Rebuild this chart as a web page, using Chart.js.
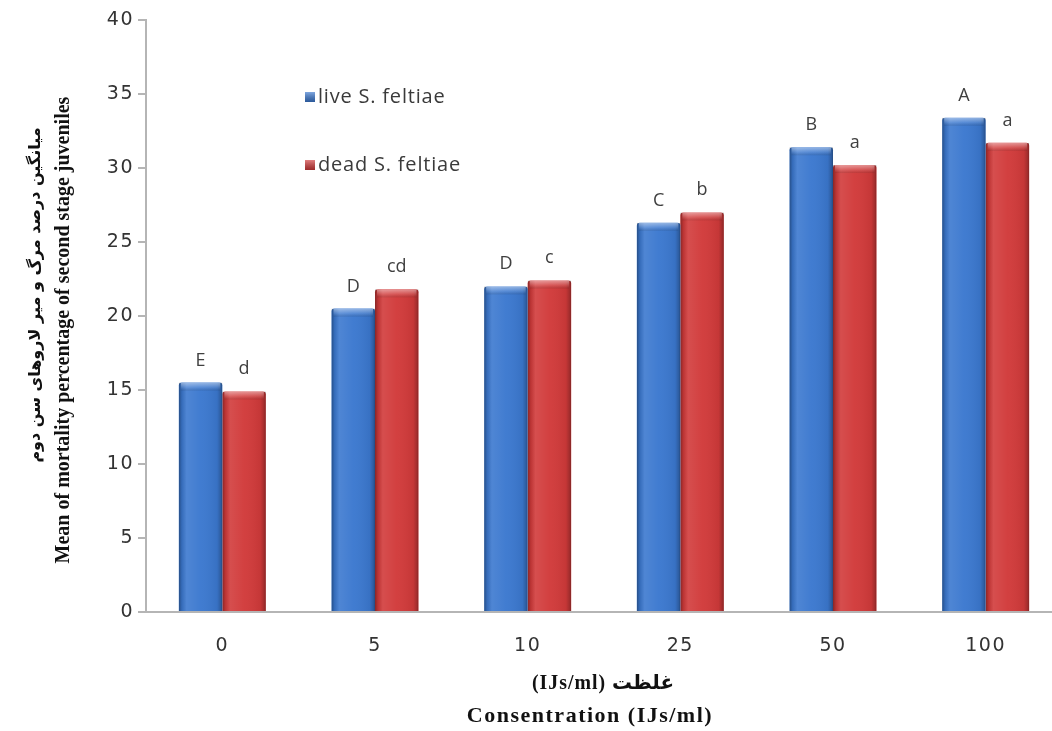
<!DOCTYPE html>
<html>
<head>
<meta charset="utf-8">
<script src="https://cdn.jsdelivr.net/npm/chart.js@4/dist/chart.umd.min.js"></script>
<style>
  html, body { margin: 0; padding: 0; background: #ffffff; overflow: hidden; }
  #wrap { position: relative; width: 1062px; height: 731px; }
</style>
</head>
<body>
<div id="wrap"><canvas id="chart" width="1062" height="731"></canvas></div>
<script>
// Concentration levels (IJs/ml)
const categories = ['0', '5', '10', '25', '50', '100'];

// Mean mortality (%) of second stage juveniles
const liveValues = [15.5, 20.5, 22.0, 26.3, 31.4, 33.4];
const deadValues = [14.9, 21.8, 22.4, 27.0, 30.2, 31.7];

// Mean-separation letters printed above each bar
const liveLetters = ['E', 'D', 'D', 'C', 'B', 'A'];
const deadLetters = ['d', 'cd', 'c', 'b', 'a', 'a'];

const seriesNames = ['live S. feltiae', 'dead S. feltiae'];

const yTitleLines = ['میانگین درصد مرگ و میر لاروهای سن دوم',
                     'Mean of mortality percentage of second stage juveniles'];
const xTitleLines = ['(IJs/ml) غلظت', 'Consentration (IJs/ml)'];

const BLUE = '#3b78cf';
const RED = '#d13a3a';

// Slightly spaced tick digits
const spacingPlugin = {
  id: 'tickSpacing',
  beforeLayout(chart) { chart.ctx.letterSpacing = '1.5px'; },
  beforeDraw(chart) { chart.ctx.letterSpacing = '1.5px'; },
  beforeDatasetsDraw(chart) { chart.ctx.letterSpacing = '0px'; }
};

// 3D-looking shading laid over each bar
const bevelPlugin = {
  id: 'bevel',
  afterDatasetsDraw(chart) {
    const ctx = chart.ctx;
    chart.data.datasets.forEach((ds, di) => {
      const meta = chart.getDatasetMeta(di);
      meta.data.forEach(bar => {
        const x0 = bar.x - bar.width / 2, x1 = bar.x + bar.width / 2;
        const top = bar.y, bottom = bar.base;
        ctx.save();
        ctx.beginPath();
        ctx.rect(x0, top, x1 - x0, bottom - top);
        ctx.clip();
        const g = ctx.createLinearGradient(x0, 0, x1, 0);
        g.addColorStop(0, 'rgba(0,0,0,0.35)');
        g.addColorStop(0.07, 'rgba(0,0,0,0.10)');
        g.addColorStop(0.18, 'rgba(255,255,255,0.10)');
        g.addColorStop(0.5, 'rgba(255,255,255,0.03)');
        g.addColorStop(0.88, 'rgba(0,0,0,0.06)');
        g.addColorStop(0.96, 'rgba(0,0,0,0.22)');
        g.addColorStop(1, 'rgba(0,0,0,0.38)');
        ctx.fillStyle = g;
        ctx.fillRect(x0, top, x1 - x0, bottom - top);
        const t = ctx.createLinearGradient(0, top, 0, top + 8);
        t.addColorStop(0, 'rgba(255,255,255,0.45)');
        t.addColorStop(0.6, 'rgba(255,255,255,0.12)');
        t.addColorStop(1, 'rgba(0,0,0,0.10)');
        ctx.fillStyle = t;
        ctx.fillRect(x0 + 2, top, x1 - x0 - 4, 8);
        ctx.restore();
      });
    });
  }
};

// Letters above bars
const letterPlugin = {
  id: 'letters',
  afterDatasetsDraw(chart) {
    const ctx = chart.ctx;
    const sets = [liveLetters, deadLetters];
    ctx.save();
    ctx.letterSpacing = '0px';
    ctx.font = '18px "Open Sans", "DejaVu Sans", sans-serif';
    ctx.fillStyle = '#404040';
    ctx.textAlign = 'center';
    ctx.textBaseline = 'alphabetic';
    chart.data.datasets.forEach((ds, di) => {
      const meta = chart.getDatasetMeta(di);
      meta.data.forEach((bar, i) => {
        ctx.fillText(sets[di][i], bar.x, bar.y - 17);
      });
    });
    ctx.restore();
  }
};

// Legend inside the plot, stacked vertically
const legendPlugin = {
  id: 'innerLegend',
  afterDraw(chart) {
    const ctx = chart.ctx;
    const rows = [97, 165];
    ctx.save();
    ctx.font = '20px "Open Sans", "Liberation Sans", sans-serif';
    ctx.letterSpacing = '0.8px';
    ctx.textBaseline = 'middle';
    chart.data.datasets.forEach((ds, di) => {
      const y = rows[di];
      const x = 305;
      ctx.fillStyle = ds.backgroundColor;
      ctx.fillRect(x, y - 5, 10, 10);
      const g = ctx.createLinearGradient(0, y - 5, 0, y + 5);
      g.addColorStop(0, 'rgba(255,255,255,0.35)');
      g.addColorStop(1, 'rgba(0,0,0,0.25)');
      ctx.fillStyle = g;
      ctx.fillRect(x, y - 5, 10, 10);
      ctx.fillStyle = '#3a3a3a';
      ctx.fillText(ds.label, x + 13, y);
    });
    ctx.restore();
  }
};

// Two-line axis titles (Persian and English)
const axisTitlePlugin = {
  id: 'axisTitles',
  afterDraw(chart) {
    const ctx = chart.ctx;
    ctx.save();
    ctx.letterSpacing = '0px';
    ctx.fillStyle = '#111111';
    ctx.textAlign = 'center';
    ctx.textBaseline = 'middle';
    // y-axis title, rotated
    ctx.save();
    ctx.translate(36, 295);
    ctx.rotate(-Math.PI / 2);
    ctx.font = 'bold 16px "DejaVu Sans", sans-serif';
    ctx.fillText(yTitleLines[0], 0, 0, 352);
    ctx.restore();
    ctx.save();
    ctx.translate(64, 330);
    ctx.rotate(-Math.PI / 2);
    ctx.font = 'bold 20px "Liberation Serif", serif';
    ctx.fillText(yTitleLines[1], 0, 0, 470);
    ctx.restore();
    // x-axis title
    ctx.letterSpacing = '1px';
    ctx.font = 'bold 20px "Liberation Serif", "DejaVu Sans", serif';
    ctx.fillText(xTitleLines[0], 603, 684, 142);
    ctx.letterSpacing = '1.5px';
    ctx.font = 'bold 22px "Liberation Serif", serif';
    ctx.fillText(xTitleLines[1], 590, 716, 266);
    ctx.restore();
  }
};

new Chart(document.getElementById('chart'), {
  type: 'bar',
  data: {
    labels: categories,
    datasets: [
      { label: seriesNames[0], data: liveValues, backgroundColor: BLUE },
      { label: seriesNames[1], data: deadValues, backgroundColor: RED }
    ]
  },
  options: {
    responsive: false,
    animation: false,
    events: [],
    layout: { padding: { top: 20, left: 0, right: 0, bottom: 0 } },
    datasets: {
      bar: {
        categoryPercentage: 0.57,
        barPercentage: 1.0,
        borderWidth: 0,
        borderRadius: { topLeft: 3, topRight: 3, bottomLeft: 0, bottomRight: 0 },
        borderSkipped: 'bottom'
      }
    },
    plugins: {
      legend: { display: false },
      tooltip: { enabled: false },
      title: { display: false }
    },
    scales: {
      x: {
        grid: { display: false, drawTicks: false },
        border: { display: true, color: '#b5b5b5', width: 2 },
        ticks: {
          color: '#333333',
          font: { family: '"DejaVu Sans", sans-serif', size: 19 },
          padding: 23
        },
        afterFit(scale) { scale.height = 119; }
      },
      y: {
        min: 0,
        max: 40,
        grid: { drawOnChartArea: false, drawTicks: true, tickLength: 8, color: '#b5b5b5', lineWidth: 2 },
        border: { display: true, color: '#b5b5b5', width: 2 },
        ticks: {
          stepSize: 5,
          color: '#333333',
          font: { family: '"DejaVu Sans", sans-serif', size: 19 },
          padding: 4
        },
        afterFit(scale) { scale.width = 146; }
      }
    }
  },
  plugins: [spacingPlugin, bevelPlugin, letterPlugin, legendPlugin, axisTitlePlugin]
});
</script>
</body>
</html>
